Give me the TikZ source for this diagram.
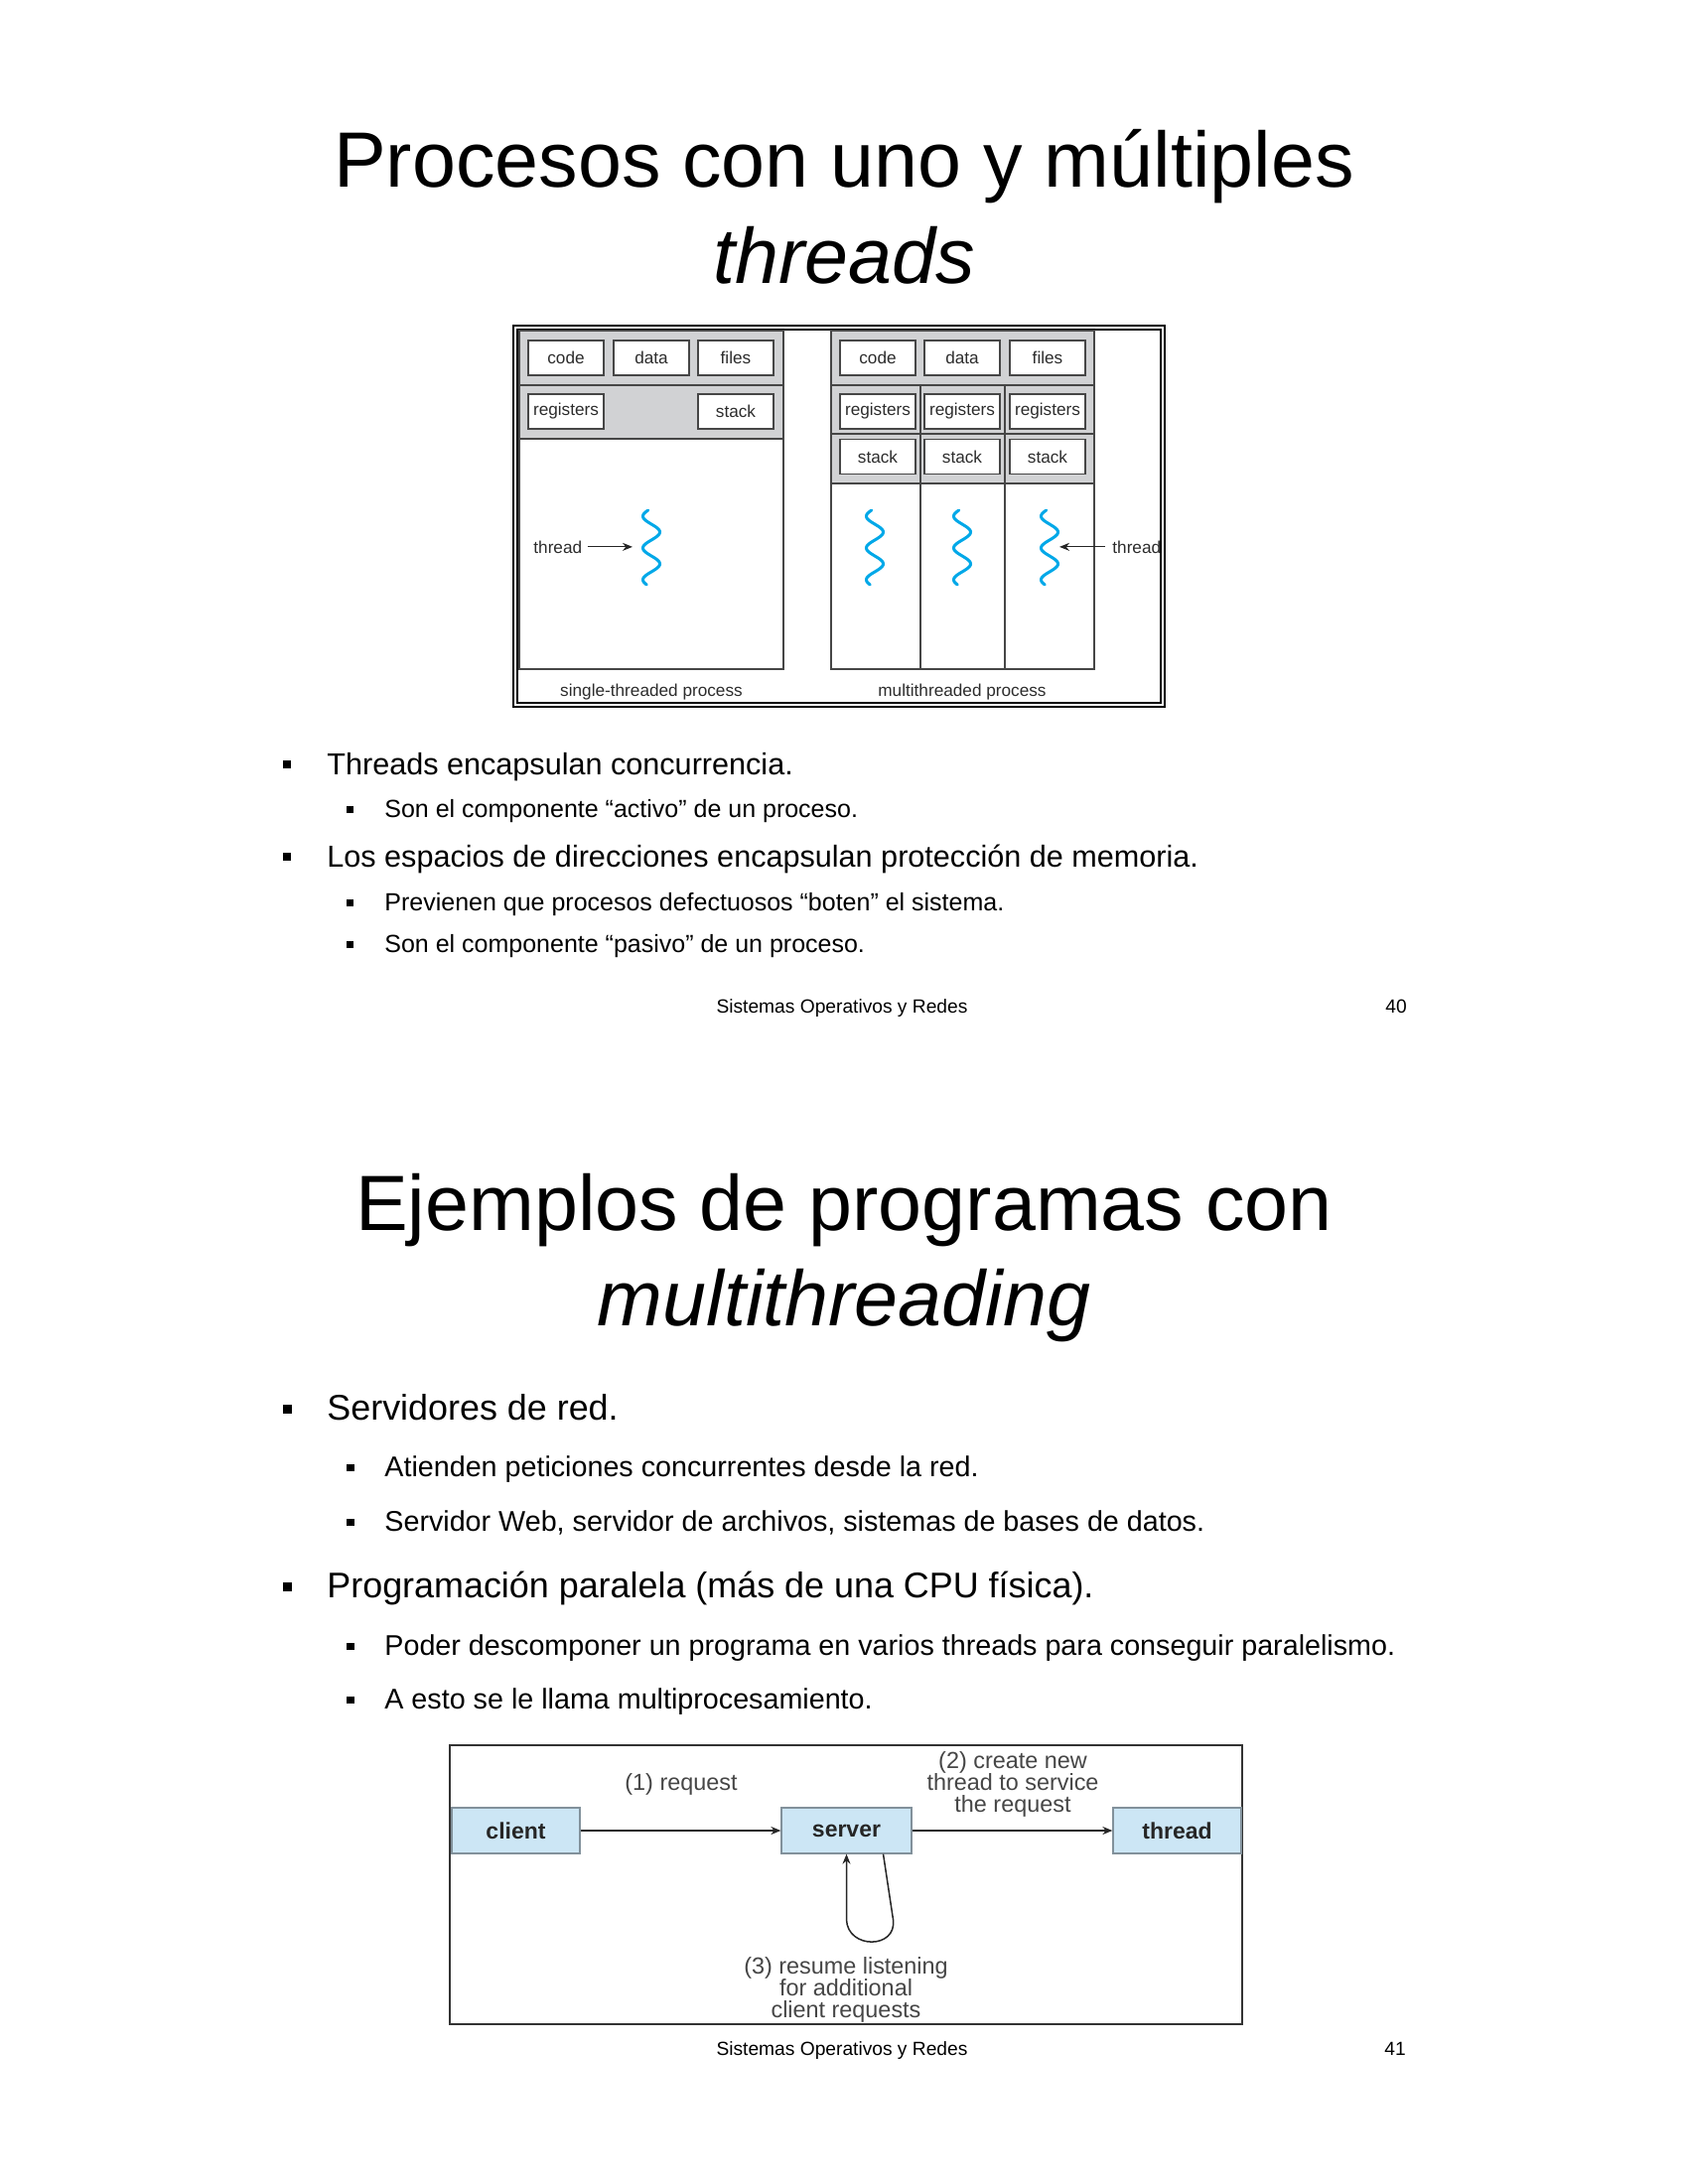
\documentclass[tikz,border=0pt]{standalone}
\usepackage{fontspec}
\setmainfont{Liberation Sans}
\usetikzlibrary{arrows.meta,calc}
\definecolor{boxgray}{RGB}{209,210,212}
\definecolor{linegray}{RGB}{70,70,70}
\definecolor{txtgray}{RGB}{45,45,45}
\definecolor{squigblue}{RGB}{0,168,232}
\definecolor{cellblue}{RGB}{204,230,245}
\definecolor{cellborder}{RGB}{130,145,155}
\definecolor{lblgray}{RGB}{70,70,70}
\begin{document}
\begin{tikzpicture}[x=0.5pt,y=-0.5pt,
  title/.style={font=\fontsize{39.5}{39.5}\selectfont, anchor=base, inner sep=0},
  mainA/.style={font=\fontsize{15.3}{18}\selectfont, anchor=base west, inner sep=0},
  subA/.style={font=\fontsize{12.5}{15}\selectfont, anchor=base west, inner sep=0},
  mainB/.style={font=\fontsize{17.95}{20}\selectfont, anchor=base west, inner sep=0},
  subB/.style={font=\fontsize{14.35}{17}\selectfont, anchor=base west, inner sep=0},
  foot/.style={font=\fontsize{9.6}{11}\selectfont, anchor=base, inner sep=0},
  cell/.style={draw=linegray, fill=white, line width=0.75pt, minimum width=38pt, minimum height=17.5pt, inner sep=0, font=\fontsize{8.6}{10}\selectfont, text=txtgray},
  lbl/.style={font=\fontsize{8.6}{10}\selectfont, text=txtgray, inner sep=0},
  sect/.style={draw=linegray, line width=0.75pt},
  arr/.style={draw=black!85, line width=0.6pt, -{Stealth[length=5pt,width=4pt]}},
  squig/.style={draw=squigblue, line width=1.5pt, line cap=round},
  cbox/.style={draw=cellborder, fill=cellblue, line width=0.6pt, minimum height=23pt, inner sep=0, font=\fontsize{11.5}{12}\selectfont\bfseries, text=black!85},
  dlbl/.style={font=\fontsize{11.7}{11}\selectfont, text=lblgray, inner sep=0, align=center},
  arr2/.style={draw=black!85, line width=0.75pt, -{Stealth[length=5pt,width=4pt]}}
]
\fill[white] (0,0) rectangle (1700,2200);
\useasboundingbox (0,0) rectangle (1700,2200);

% ---------- Slide 40 ----------
\node[title] (t1a) at (850,188) {Procesos con uno y múltiples};
\node[title] (t1b) at (850,285) {\itshape threads};

% frame
\draw[line width=1.35pt, black] (517,328) rectangle (1173,712);
\draw[line width=0.8pt, black] (521,332) rectangle (1169,708);

% single-threaded process
\filldraw[sect, fill=boxgray] (523,333) rectangle (789,388);
\filldraw[sect, fill=boxgray] (523,388) rectangle (789,442);
\filldraw[sect, fill=white] (523,442) rectangle (789,674);
\node[cell] (scode) at (570,360.5) {code};
\node[cell] (sdata) at (656,360.5) {data};
\node[cell] (sfiles) at (741,360.5) {files};
\node[cell] (sreg) at (570,414.5) {registers};
\node[cell] (sstack) at (741,414.5) {stack};

% multithreaded process
\filldraw[sect, fill=boxgray] (837,333) rectangle (1102,388);
\foreach \a/\b in {837/927,927/1012,1012/1102}{
  \filldraw[sect, fill=boxgray] (\a,388) rectangle (\b,437);
  \filldraw[sect, fill=boxgray] (\a,437) rectangle (\b,487);
  \filldraw[sect, fill=white] (\a,487) rectangle (\b,674);
}
\node[cell] (mcode) at (884,360.5) {code};
\node[cell] (mdata) at (969,360.5) {data};
\node[cell] (mfiles) at (1055,360.5) {files};
\node[cell] (mreg1) at (884,414.5) {registers};
\node[cell] (mreg2) at (969,414.5) {registers};
\node[cell] (mreg3) at (1055,414.5) {registers};
\node[cell] (mstk1) at (884,460) {stack};
\node[cell] (mstk2) at (969,460) {stack};
\node[cell] (mstk3) at (1055,460) {stack};

% squiggles
\foreach \cx in {656,881,969,1057}{
  \draw[squig] plot[domain=514:589, samples=80, smooth, variable=\t] ({\cx - 8.5*cos(11.25*(\t-520))}, \t);
}
\coordinate (sq1) at (637,552);
\coordinate (sq4) at (1067,552);
\node[lbl, anchor=base west] (thl) at (537,557) {thread};
\node[lbl, anchor=base west] (thr) at (1120,557) {thread};
\draw[arr] ([xshift=2.5pt]thl.east) -- (thl.east -| sq1);
\draw[arr] ([xshift=-3.5pt]thr.west) -- (thr.west -| sq4);

\node[lbl, anchor=base] (cap1) at (656,701) {single-threaded process};
\node[lbl, anchor=base] (cap2) at (969,701) {multithreaded process};

% bullets slide 40
\fill (285,766) rectangle (293,774);
\node[mainA] (b1) at (329,780) {Threads encapsulan concurrencia.};
\fill (349,811.5) rectangle (356,818.5);
\node[subA] (b1a) at (387,823) {Son el componente “activo” de un proceso.};
\fill (285,859) rectangle (293,867);
\node[mainA] (b2) at (329,873) {Los espacios de direcciones encapsulan protección de memoria.};
\fill (349,905.5) rectangle (356,912.5);
\node[subA] (b2a) at (387,917) {Previenen que procesos defectuosos “boten” el sistema.};
\fill (349,947.5) rectangle (356,954.5);
\node[subA] (b2b) at (387,959) {Son el componente “pasivo” de un proceso.};

\node[foot] (f1) at (848,1020) {Sistemas Operativos y Redes};
\node[foot, anchor=base west] (p1) at (1395,1020) {40};

% ---------- Slide 41 ----------
\node[title] (t2a) at (850,1239) {Ejemplos de programas con};
\node[title] (t2b) at (850,1335) {\itshape multithreading};

\fill (285,1414.5) rectangle (294,1423.5);
\node[mainB] (c1) at (329,1430) {Servidores de red.};
\fill (349,1474.5) rectangle (356.5,1482);
\node[subB] (c1a) at (387,1487) {Atienden peticiones concurrentes desde la red.};
\fill (349,1529.5) rectangle (356.5,1537);
\node[subB] (c1b) at (387,1542) {Servidor Web, servidor de archivos, sistemas de bases de datos.};
\fill (285,1593.5) rectangle (294,1602.5);
\node[mainB] (c2) at (329,1609) {Programación paralela (más de una CPU física).};
\fill (349,1654.5) rectangle (356.5,1662);
\node[subB] (c2a) at (387,1667) {Poder descomponer un programa en varios threads para conseguir paralelismo.};
\fill (349,1708.5) rectangle (356.5,1716);
\node[subB] (c2b) at (387,1721) {A esto se le llama multiprocesamiento.};

% diagram 2
\draw[line width=0.65pt, draw=black!80] (453,1758) rectangle (1251,2039);
\node[cbox, minimum width=64.5pt] (client) at (519.5,1844) {client};
\node[cbox, minimum width=65.5pt] (server) at (852.5,1844) {server};
\node[cbox, minimum width=64.5pt] (thread) at (1185.5,1844) {thread};
\draw[arr2] (client) -- (server);
\draw[arr2] (server) -- (thread);
\draw[arr2] ($(server.south)+(37,0)$) -- ($(server.south)+(47,66)$)
  .. controls ($(server.south)+(51,96)$) and ($(server.south)+(1,96)$) .. ($(server.south)+(0,66)$)
  -- (server.south);
\node[dlbl, anchor=base] (l1) at (686,1803) {(1) request};
\node[dlbl] (l2) at (1020,1797) {(2) create new\\thread to service\\the request};
\node[dlbl] (l3) at (852,2004) {(3) resume listening\\for additional\\client requests};

\node[foot] (f2) at (848,2070) {Sistemas Operativos y Redes};
\node[foot, anchor=base west] (p2) at (1394,2070) {41};
\end{tikzpicture}
\end{document}
